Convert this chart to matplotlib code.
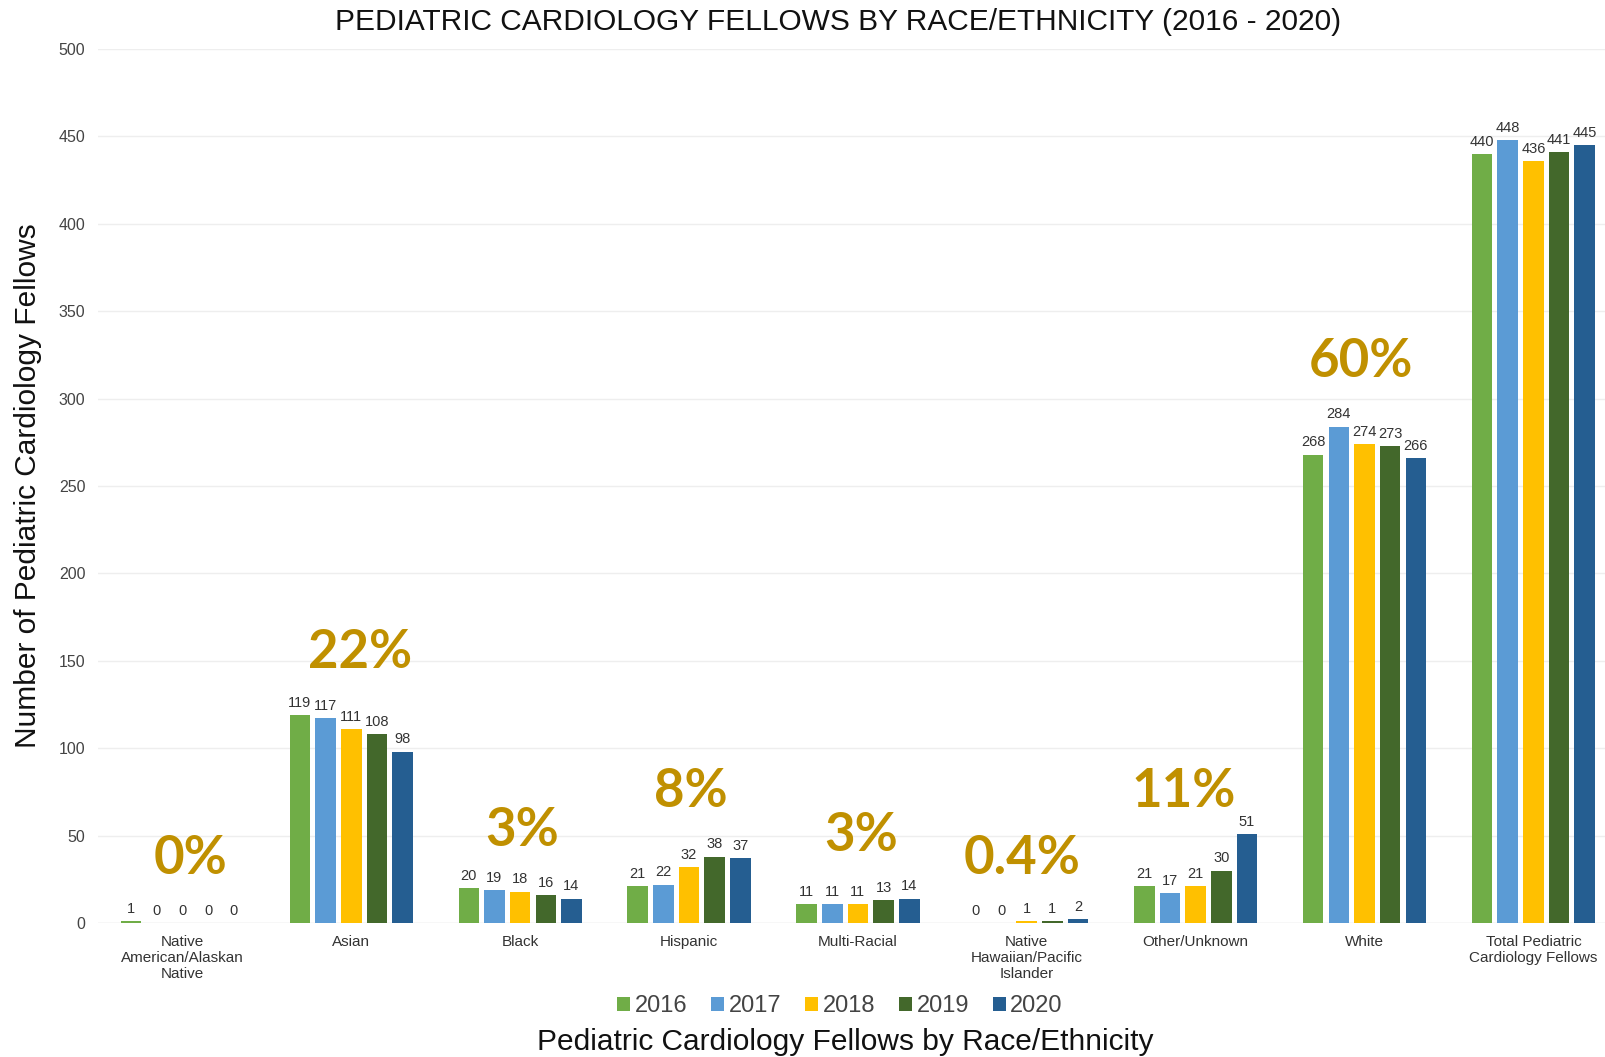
import matplotlib.pyplot as plt
import numpy as np

categories = [
    'Native\nAmerican/Alaskan\nNative', 'Asian', 'Black', 'Hispanic', 'Multi-Racial',
    'Native\nHawaiian/Pacific\nIslander', 'Other/Unknown', 'White',
    'Total Pediatric\nCardiology Fellows',
]
years = ['2016', '2017', '2018', '2019', '2020']
v2016 = [1, 119, 20, 21, 11, 0, 21, 268, 440]
v2017 = [0, 117, 19, 22, 11, 0, 17, 284, 448]
v2018 = [0, 111, 18, 32, 11, 1, 21, 274, 436]
v2019 = [0, 108, 16, 38, 13, 1, 30, 273, 441]
v2020 = [0, 98, 14, 37, 14, 2, 51, 266, 445]
pct_labels = ['0%', '22%', '3%', '8%', '3%', '0.4%', '11%', '60%']

colors = ['#70AD47', '#5B9BD5', '#FFC000', '#43682B', '#255E91']
pct_pos = [(0.05, 37), (0.05, 155), (0.01, 53), (0.01, 75), (0.02, 50),
           (-0.03, 37), (-0.07, 75), (-0.02, 321)]

plt.rcParams['font.family'] = ['Liberation Sans', 'DejaVu Sans']

fig = plt.figure(figsize=(16.06, 10.57), dpi=100)
ax = fig.add_axes([0.061, 0.1268, 0.939, 0.8268])

x = np.arange(len(categories))
step = 0.152
width = 0.122
series = [v2016, v2017, v2018, v2019, v2020]
for i, (yr, vals) in enumerate(zip(years, series)):
    pos = x + (i - 2) * step
    ax.bar(pos, vals, width, color=colors[i], label=yr, zorder=3)
    for p, v in zip(pos, vals):
        ax.text(p, v + 3, str(v), ha='center', va='bottom', fontsize=10.5, color='#333333', zorder=4)

for i, lab in enumerate(pct_labels):
    dx, yy = pct_pos[i]
    ax.text(i + dx, yy, lab, ha='center', va='center', fontsize=38, fontweight='bold',
            color='#C09000', family=['Lato', 'DejaVu Sans'], zorder=5)

ax.set_xlim(-0.5, 8.43)
ax.set_ylim(0, 500)
ax.set_yticks(range(0, 501, 50))
ax.grid(axis='y', color='#EEEEEE', linewidth=1, zorder=0)
for s in ['top', 'right', 'left', 'bottom']:
    ax.spines[s].set_visible(False)
ax.axhline(0, color='#E6E6E6', linewidth=1, zorder=1)
ax.tick_params(axis='both', length=0, colors='#444444')
ax.tick_params(axis='y', pad=9, labelsize=11.5)
ax.tick_params(axis='x', pad=9)
ax.set_xticks(x)
ax.set_xticklabels(categories, fontsize=11, color='#333333', linespacing=1.15)

ax.set_ylabel('Number of Pediatric Cardiology Fellows', fontsize=21.5, color='#111111', labelpad=12)

fig.text(0.522, 0.979, 'PEDIATRIC CARDIOLOGY FELLOWS BY RACE/ETHNICITY (2016 - 2020)',
         ha='center', va='center', fontsize=21.5, color='#111111')
fig.text(0.526, 0.014, 'Pediatric Cardiology Fellows by Race/Ethnicity',
         ha='center', va='center', fontsize=21.5, color='#111111')

fig.legend(loc='center', bbox_to_anchor=(0.523, 0.048), ncol=5, frameon=False,
           fontsize=17, handlelength=0.55, handleheight=0.55, handletextpad=0.2,
           columnspacing=1.0, labelcolor='#444444')

fig.savefig('out.png', dpi=100)
